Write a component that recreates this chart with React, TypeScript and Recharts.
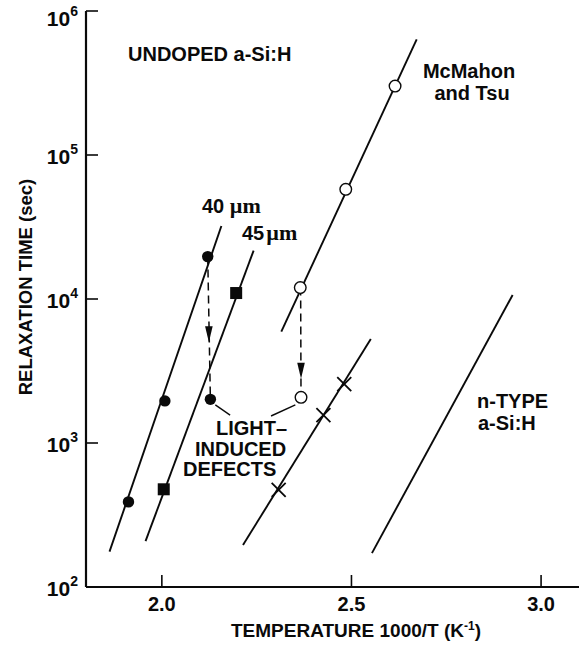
import { ComposedChart, Scatter, XAxis, YAxis } from "recharts";

// axis ticks
const X_TICKS = [2.0, 2.5, 3.0];
const Y_TICKS = [1e2, 1e3, 1e4, 1e5, 1e6];

// fitted lines (end points, 1000/T vs seconds)
const FIT_40UM = [
  { x: 1.862, y: 176 },
  { x: 2.157, y: 32100 },
];
const FIT_45UM = [
  { x: 1.957, y: 208 },
  { x: 2.242, y: 21700 },
];
const FIT_MCMAHON = [
  { x: 2.315, y: 5930 },
  { x: 2.672, y: 635000 },
];
const FIT_CROSS = [
  { x: 2.214, y: 196 },
  { x: 2.551, y: 5270 },
];
const FIT_NTYPE = [
  { x: 2.554, y: 172 },
  { x: 2.925, y: 10660 },
];

// measured points
const PTS_40UM = [
  { x: 1.912, y: 390 },
  { x: 2.008, y: 1960 },
  { x: 2.121, y: 19700 },
];
const PTS_45UM = [
  { x: 2.005, y: 477 },
  { x: 2.196, y: 11000 },
];
const PTS_MCMAHON = [
  { x: 2.365, y: 12000 },
  { x: 2.485, y: 57800 },
  { x: 2.615, y: 301000 },
];
const PTS_CROSS = [
  { x: 2.308, y: 472 },
  { x: 2.426, y: 1560 },
  { x: 2.481, y: 2560 },
];
const PTS_LIGHT_FILLED = [{ x: 2.128, y: 2010 }];
const PTS_LIGHT_OPEN = [{ x: 2.367, y: 2075 }];

// light-induced shifts (dashed) and their arrowheads
const SHIFT_40UM = [
  { x: 2.121, y: 19700 },
  { x: 2.128, y: 2010 },
];
const SHIFT_MCMAHON = [
  { x: 2.366, y: 12000 },
  { x: 2.367, y: 2075 },
];
const ARROWS = [
  { x: 2.124, y: 5700 },
  { x: 2.367, y: 3180 },
];

// leader lines to the LIGHT-INDUCED DEFECTS note
const LEADER_A = [
  { x: 2.141, y: 1840 },
  { x: 2.18, y: 1563 },
];
const LEADER_B = [
  { x: 2.352, y: 1840 },
  { x: 2.288, y: 1540 },
];

const INK = "#0a0a0a";
const FONT = "'Liberation Sans', Arial, Helvetica, sans-serif";
const SERIF = "'Liberation Serif', 'Times New Roman', serif";

const none = () => <g />;

const Dot = (p: any) => <circle cx={p.cx} cy={p.cy} r={5.7} fill={INK} />;
const Ring = (p: any) => (
  <circle cx={p.cx} cy={p.cy} r={5.8} fill="#fff" stroke={INK} strokeWidth={1.4} />
);
const Square = (p: any) => (
  <rect x={p.cx - 6} y={p.cy - 6} width={12} height={12} fill={INK} />
);
const Cross = (p: any) => (
  <path
    d={`M${p.cx - 7},${p.cy - 7}L${p.cx + 7},${p.cy + 7}M${p.cx - 7},${p.cy + 7}L${p.cx + 7},${p.cy - 7}`}
    stroke={INK}
    strokeWidth={1.8}
  />
);
const Arrow = (p: any) => (
  <path
    d={`M${p.cx - 3.8},${p.cy - 8}L${p.cx + 3.8},${p.cy - 8}L${p.cx},${p.cy + 8}Z`}
    fill={INK}
  />
);

const LeftTick = ({ x, y, payload }: any) => {
  const exp = Math.round(Math.log10(payload.value));
  return (
    <g>
      <line x1={x} y1={y} x2={x + 12} y2={y} stroke={INK} strokeWidth={1.6} />
      <text
        x={x - 8}
        y={y + (exp === 6 ? 15 : 9)}
        textAnchor="end"
        fontFamily={FONT}
        fontWeight="bold"
        fontSize={21}
        fill={INK}
      >
        10
        <tspan dy={-10} fontSize={14}>
          {exp}
        </tspan>
      </text>
    </g>
  );
};

const RightTick = ({ x, y }: any) => (
  <line x1={x} y1={y} x2={x - 12} y2={y} stroke={INK} strokeWidth={1.6} />
);

const BottomTick = ({ x, y, payload }: any) => (
  <g>
    <line x1={x} y1={y} x2={x} y2={y - 12} stroke={INK} strokeWidth={1.6} />
    <text
      x={x}
      y={y + 24}
      textAnchor="middle"
      fontFamily={FONT}
      fontWeight="bold"
      fontSize={20}
      fill={INK}
    >
      {Number(payload.value).toFixed(1)}
    </text>
  </g>
);

const TopTick = ({ x, y }: any) => (
  <line x1={x} y1={y} x2={x} y2={y + 12} stroke={INK} strokeWidth={1.6} />
);

const lbl = {
  fontFamily: FONT,
  fontWeight: "bold" as const,
  fontSize: 20,
  fill: INK,
};

export default function App() {
  const axisLine = { stroke: INK, strokeWidth: 2.2 };
  const fit = { stroke: INK, strokeWidth: 1.9 };
  const dashed = { stroke: INK, strokeWidth: 1.5, strokeDasharray: "8 5" };

  return (
    <div style={{ position: "absolute", left: 0, top: 0, background: "#fff" }}>
      <ComposedChart
        width={581}
        height={645}
        margin={{ top: 11, right: 2, bottom: 0, left: 1 }}
      >
        <XAxis
          type="number"
          dataKey="x"
          domain={[1.8, 3.1]}
          ticks={X_TICKS}
          interval={0}
          height={58}
          axisLine={axisLine}
          tickLine={false}
          tickSize={0}
          tickMargin={0}
          tick={<BottomTick />}
          allowDataOverflow
        />
        <XAxis
          xAxisId="top"
          orientation="top"
          type="number"
          dataKey="x"
          domain={[1.8, 3.1]}
          ticks={X_TICKS}
          interval={0}
          height={0}
          axisLine={axisLine}
          tickLine={false}
          tickSize={0}
          tickMargin={0}
          tick={<TopTick />}
          allowDataOverflow
        />
        <YAxis
          type="number"
          dataKey="y"
          scale="log"
          domain={[100, 1e6]}
          ticks={Y_TICKS}
          interval={0}
          width={85}
          axisLine={axisLine}
          tickLine={false}
          tickSize={0}
          tickMargin={0}
          tick={<LeftTick />}
          allowDataOverflow
        />
        <YAxis
          yAxisId="right"
          orientation="right"
          type="number"
          dataKey="y"
          scale="log"
          domain={[100, 1e6]}
          ticks={Y_TICKS}
          interval={0}
          width={0}
          axisLine={axisLine}
          tickLine={false}
          tickSize={0}
          tickMargin={0}
          tick={<RightTick />}
          allowDataOverflow
        />

        <Scatter data={FIT_40UM} line={fit} shape={none} isAnimationActive={false} />
        <Scatter data={FIT_45UM} line={fit} shape={none} isAnimationActive={false} />
        <Scatter data={FIT_MCMAHON} line={fit} shape={none} isAnimationActive={false} />
        <Scatter data={FIT_CROSS} line={fit} shape={none} isAnimationActive={false} />
        <Scatter data={FIT_NTYPE} line={fit} shape={none} isAnimationActive={false} />
        <Scatter data={SHIFT_40UM} line={dashed} shape={none} isAnimationActive={false} />
        <Scatter data={SHIFT_MCMAHON} line={dashed} shape={none} isAnimationActive={false} />
        <Scatter data={LEADER_A} line={{ stroke: INK, strokeWidth: 1.4 }} shape={none} isAnimationActive={false} />
        <Scatter data={LEADER_B} line={{ stroke: INK, strokeWidth: 1.4 }} shape={none} isAnimationActive={false} />

        <Scatter data={ARROWS} shape={Arrow} isAnimationActive={false} />
        <Scatter data={PTS_40UM} shape={Dot} isAnimationActive={false} />
        <Scatter data={PTS_LIGHT_FILLED} shape={Dot} isAnimationActive={false} />
        <Scatter data={PTS_45UM} shape={Square} isAnimationActive={false} />
        <Scatter data={PTS_MCMAHON} shape={Ring} isAnimationActive={false} />
        <Scatter data={PTS_LIGHT_OPEN} shape={Ring} isAnimationActive={false} />
        <Scatter data={PTS_CROSS} shape={Cross} isAnimationActive={false} />

        <text x={128} y={61} {...lbl}>UNDOPED a-Si:H</text>
        <text x={469} y={78} textAnchor="middle" {...lbl}>McMahon</text>
        <text x={472} y={100} textAnchor="middle" {...lbl}>and Tsu</text>
        <text x={202} y={213} {...lbl}>
          40 <tspan fontFamily={SERIF} fontSize={22}>µm</tspan>
        </text>
        <text x={242} y={240} {...lbl}>
          45<tspan dx={2} fontFamily={SERIF} fontSize={22}>µm</tspan>
        </text>
        <text x={216} y={435} {...lbl}>LIGHT–</text>
        <text x={195} y={456} {...lbl}>INDUCED</text>
        <text x={183} y={476} {...lbl}>DEFECTS</text>
        <text x={477} y={408} {...lbl}>n-TYPE</text>
        <text x={478} y={430} {...lbl}>a-Si:H</text>

        <text x={356} y={637} textAnchor="middle" {...lbl} fontSize={19}>
          TEMPERATURE 1000/T (K
          <tspan dy={-7} fontSize={12}>-1</tspan>
          <tspan dy={7}>)</tspan>
        </text>
        <text
          x={32}
          y={287}
          transform="rotate(-90 32 287)"
          textAnchor="middle"
          {...lbl}
          fontSize={18.5}
        >
          RELAXATION TIME (sec)
        </text>
      </ComposedChart>
    </div>
  );
}
